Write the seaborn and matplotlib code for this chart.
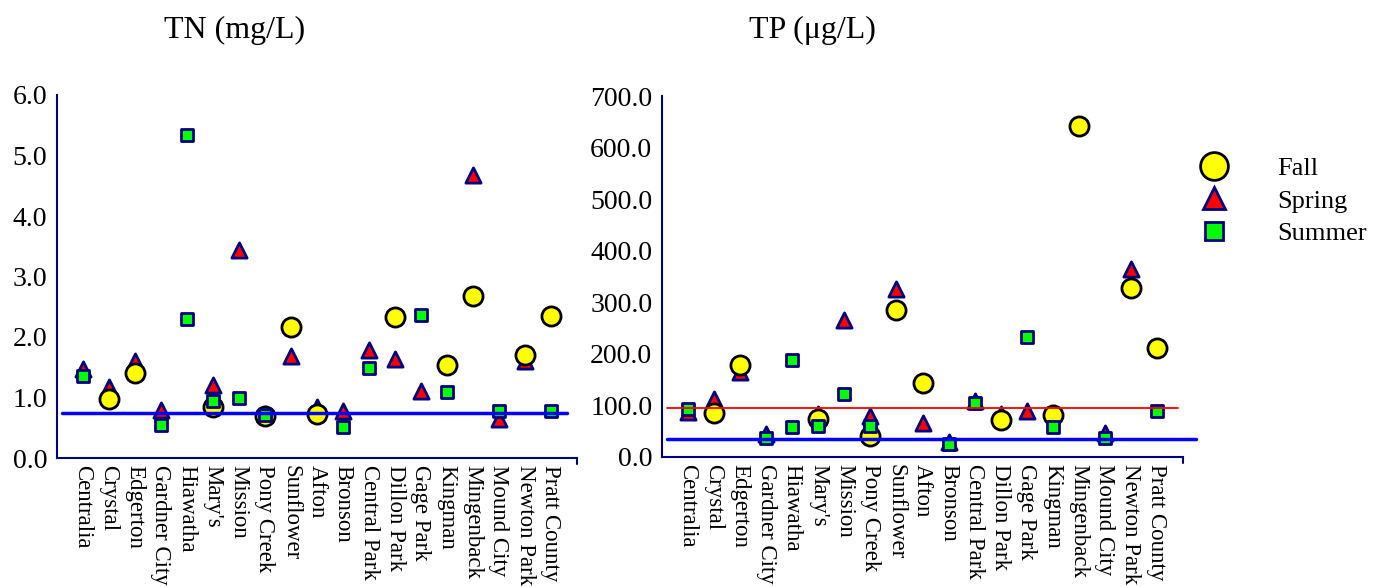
import numpy as np
import pandas as pd
import matplotlib
matplotlib.use("Agg")
import matplotlib.pyplot as plt
import seaborn as sns
from matplotlib.lines import Line2D

nan = np.nan
sites = ["Centralia", "Crystal", "Edgerton", "Gardner City", "Hiawatha", "Mary's",
         "Mission", "Pony Creek", "Sunflower", "Afton", "Bronson", "Central Park",
         "Dillon Park", "Gage Park", "Kingman", "Mingenback", "Mound City",
         "Newton Park", "Pratt County"]
seasons = ["Fall", "Spring", "Summer"]

tn_fall   = [nan, 0.98, 1.41, nan, nan, 0.85, nan, 0.69, 2.16, 0.73, nan, nan, 2.33, nan, 1.54, 2.67, nan, 1.71, 2.34]
tn_spring = [1.47, 1.18, 1.60, 0.80, nan, 1.20, 3.44, 0.72, 1.68, 0.85, 0.77, 1.79, 1.64, 1.11, nan, 4.68, 0.65, 1.61, nan]
tn_summer = [1.35, nan, nan, 0.55, 5.34, 0.95, 0.99, 0.71, nan, nan, 0.52, 1.49, nan, 2.37, 1.09, nan, 0.78, nan, 0.78]
tp_fall   = [nan, 85, 178, nan, nan, 74, nan, 40, 286, 143, nan, nan, 71, nan, 82, 642, nan, 328, 212]
tp_spring = [88, 112, 164, 45, nan, 83, 265, 80, 326, 66, 29, 108, 84, 90, nan, nan, 46, 364, nan]
tp_summer = [93, nan, nan, 37, 189, 61, 122, 61, nan, nan, 26, 104, nan, 233, 58, nan, 37, nan, 90]
# second Hiawatha summer sample
extra_site = ["Hiawatha"]
extra_season = ["Summer"]
extra_tn = [2.30]
extra_tp = [59]

tn_ref = 0.74
tp_ref_red = 95
tp_ref_blue = 35

rows = []
for s, tnv, tpv in [("Fall", tn_fall, tp_fall), ("Spring", tn_spring, tp_spring),
                    ("Summer", tn_summer, tp_summer)]:
    for site, a, b in zip(sites, tnv, tpv):
        rows.append((site, s, a, b))
for site, s, a, b in zip(extra_site, extra_season, extra_tn, extra_tp):
    rows.append((site, s, a, b))
df = pd.DataFrame(rows, columns=["site", "season", "TN", "TP"])
df["pos"] = pd.Categorical(df["site"], categories=sites).codes

sns.set_theme(style="white")
plt.rcParams["font.family"] = ["Liberation Serif", "DejaVu Serif"]
plt.rcParams["text.color"] = "black"

navy = "#000080"
style = {
    "Fall":   dict(marker="o", color="#FFFF00", ec="black", s=190, z=3),
    "Spring": dict(marker="^", color="#FF0000", ec=navy, s=120, z=2),
    "Summer": dict(marker="s", color="#00FF00", ec=navy, s=85, z=4),
}

fig = plt.figure(figsize=(13.86, 5.87), dpi=100)
ax1 = fig.add_axes([57/1386, 1-458/587, 520/1386, 363/587])
ax2 = fig.add_axes([662/1386, 1-457/587, 521/1386, 361/587])

for ax, col, ylim, yt in [(ax1, "TN", 6, np.arange(0, 6.01, 1.0)),
                          (ax2, "TP", 700, np.arange(0, 701, 100.0))]:
    for s in ["Spring", "Fall", "Summer"]:
        st = style[s]
        sub = df[(df["season"] == s) & df[col].notna()]
        sns.scatterplot(data=sub, x="pos", y=col, ax=ax, marker=st["marker"],
                        color=st["color"], edgecolor=st["ec"], linewidth=2,
                        s=st["s"], zorder=st["z"], legend=False)
    ax.set_xlim(-1, 19)
    ax.set_ylim(0, ylim)
    ax.set_yticks(yt)
    ax.set_yticklabels([f"{v:.1f}" for v in yt], fontsize=20, color="black")
    ax.set_xticks(range(len(sites)))
    ax.set_xticklabels(sites, rotation=270, fontsize=16.5, ha="center", va="top",
                       color="black")
    ax.set_xlabel("")
    ax.set_ylabel("")
    for sp in ["top", "right"]:
        ax.spines[sp].set_visible(False)
    for sp in ["left", "bottom"]:
        ax.spines[sp].set_color(navy)
        ax.spines[sp].set_linewidth(1.5)
    ax.tick_params(axis="both", colors=navy, labelcolor="black", width=1.5,
                   length=6, direction="out")
    ax.tick_params(axis="x", pad=-1)
    ax.tick_params(axis="y", pad=1)
    # end tick at right edge of x-axis
    ax.plot([19, 19], [0, -0.017 * ylim], color=navy, lw=1.5, clip_on=False)
    ax.set_facecolor("white")

ax1.axhline(tn_ref, xmin=0.01, xmax=0.98, color="#0000FF", lw=2.5, zorder=5)
ax2.axhline(tp_ref_red, xmin=0.01, xmax=0.99, color="#FF0000", lw=1.3, zorder=5)
ax2.axhline(tp_ref_blue, xmin=0.01, xmax=1.025, color="#0000FF", lw=2.5, zorder=5,
            clip_on=False)

fig.text(235/1386, 1-30/587, "TN (mg/L)", fontsize=23, ha="center", va="center")
fig.text(812/1386, 1-30/587, "TP (\u03bcg/L)", fontsize=23, ha="center", va="center")

handles = [
    Line2D([], [], ls="none", marker="o", markersize=20, markerfacecolor="#FFFF00",
           markeredgecolor="black", markeredgewidth=2),
    Line2D([], [], ls="none", marker="^", markersize=16, markerfacecolor="#FF0000",
           markeredgecolor=navy, markeredgewidth=2),
    Line2D([], [], ls="none", marker="s", markersize=13, markerfacecolor="#00FF00",
           markeredgecolor=navy, markeredgewidth=2),
]
fig.legend(handles, seasons, loc="upper left", bbox_to_anchor=(1182/1386, 1-146/587),
           frameon=False, fontsize=19, handletextpad=1.6, labelspacing=0.35,
           borderaxespad=0, handlelength=1.6)

fig.savefig("out.png", dpi=100, facecolor="white")
